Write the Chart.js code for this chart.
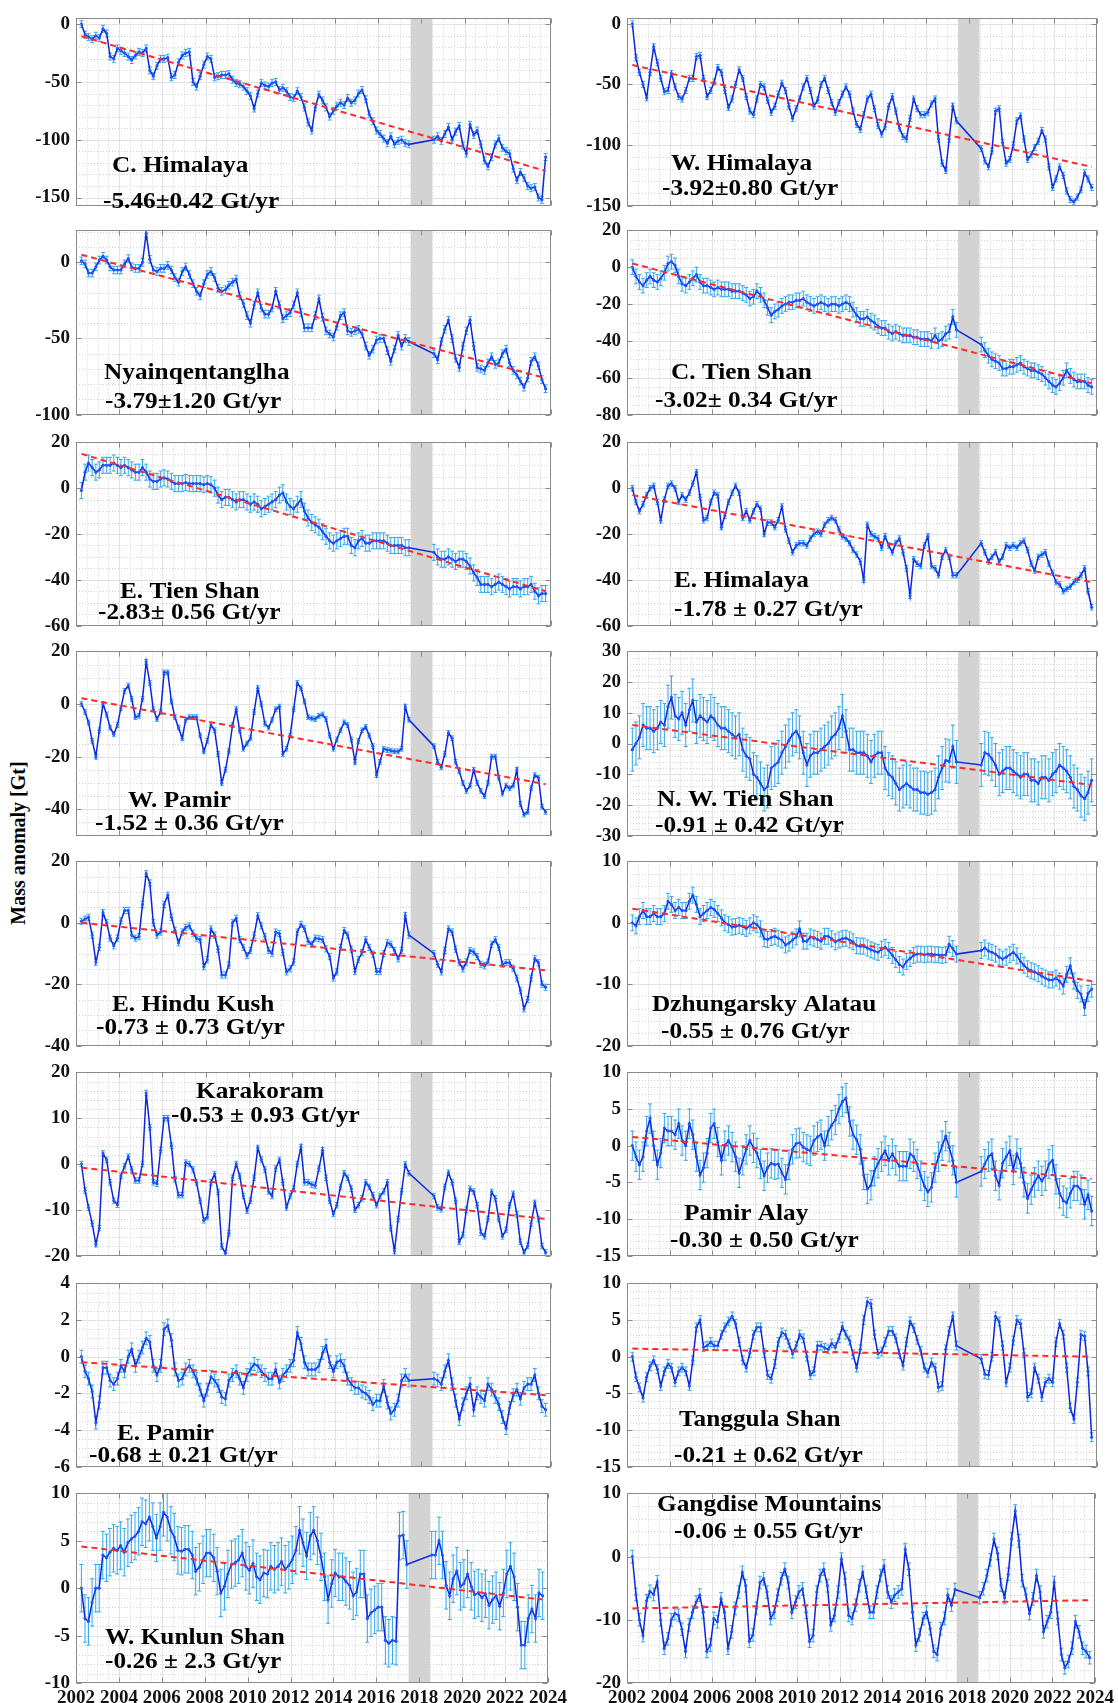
<!DOCTYPE html>
<html>
<head>
<meta charset="utf-8">
<script src="https://cdn.jsdelivr.net/npm/chart.js@4.4.1/dist/chart.umd.min.js"></script>
<style>
  body { margin: 0; background: #fff; width: 1118px; height: 1703px; position: relative; overflow: hidden; }
  canvas { position: absolute; }
  #ylab { position: absolute; left: 18px; top: 843px; transform: translate(-50%, -50%) rotate(-90deg);
          font: bold 20px "Liberation Serif", "Times New Roman", serif; white-space: nowrap; color: #000; }
</style>
</head>
<body>
<div id="ylab">Mass anomaly [Gt]</div>
<script>
// time axis: GRACE (2002-2017) and GRACE-FO (2018-2023), decimal years
const years = [
  2002.25, 2002.42, 2002.58, 2002.75, 2002.92,
  2003.08, 2003.25, 2003.42, 2003.58, 2003.75, 2003.92,
  2004.08, 2004.25, 2004.42, 2004.58, 2004.75, 2004.92,
  2005.08, 2005.25, 2005.42, 2005.58, 2005.75, 2005.92,
  2006.08, 2006.25, 2006.42, 2006.58, 2006.75, 2006.92,
  2007.08, 2007.25, 2007.42, 2007.58, 2007.75, 2007.92,
  2008.08, 2008.25, 2008.42, 2008.58, 2008.75, 2008.92,
  2009.08, 2009.25, 2009.42, 2009.58, 2009.75, 2009.92,
  2010.08, 2010.25, 2010.42, 2010.58, 2010.75, 2010.92,
  2011.08, 2011.25, 2011.42, 2011.58, 2011.75, 2011.92,
  2012.08, 2012.25, 2012.42, 2012.58, 2012.75, 2012.92,
  2013.08, 2013.25, 2013.42, 2013.58, 2013.75, 2013.92,
  2014.08, 2014.25, 2014.42, 2014.58, 2014.75, 2014.92,
  2015.08, 2015.25, 2015.42, 2015.58, 2015.75, 2015.92,
  2016.08, 2016.25, 2016.42, 2016.58, 2016.75, 2016.92,
  2017.08, 2017.25, 2017.42,
  2018.58, 2018.75, 2018.92,
  2019.08, 2019.25, 2019.42, 2019.58, 2019.75, 2019.92,
  2020.08, 2020.25, 2020.42, 2020.58, 2020.75, 2020.92,
  2021.08, 2021.25, 2021.42, 2021.58, 2021.75, 2021.92,
  2022.08, 2022.25, 2022.42, 2022.58, 2022.75, 2022.92,
  2023.08, 2023.25, 2023.42, 2023.58, 2023.75
];

const cHimalaya = [
  0, -9, -11, -13, -10,
  -12, -4, -8, -28, -30, -21,
  -23, -25, -28, -31, -27, -24,
  -25, -21, -40, -45, -36, -30,
  -30, -29, -46, -44, -33, -27,
  -25, -24, -50, -54, -45, -35,
  -28, -30, -46, -45, -44, -44,
  -43, -48, -51, -52, -54, -58,
  -62, -73, -60, -51, -53, -54,
  -51, -50, -57, -55, -58, -63,
  -64, -58, -63, -72, -85, -92,
  -72, -61, -66, -72, -80, -75,
  -71, -68, -70, -64, -68, -66,
  -60, -57, -65, -78, -84, -92,
  -95, -99, -103, -97, -104, -101,
  -100, -103, -104,
  -100, -97, -101,
  -95, -89, -100, -93, -88, -105,
  -112, -87, -96, -92, -104, -118,
  -123, -115, -104, -99, -107, -110,
  -112, -125, -135, -128, -133, -140,
  -142, -141, -150, -152, -115
];
const wHimalaya = [
  0, -28, -40, -50, -61,
  -40, -19, -32, -45, -56, -55,
  -41, -52, -60, -62, -55, -45,
  -45, -27, -26, -45, -60, -55,
  -48, -36, -40, -55, -69, -62,
  -50, -38, -45, -60, -72, -75,
  -62, -50, -52, -63, -73, -68,
  -58, -49, -55, -68, -78, -70,
  -62, -52, -45, -55, -68, -63,
  -50, -45, -55, -65, -73, -65,
  -58, -52, -58, -72, -83, -87,
  -75, -62, -58, -70, -84, -91,
  -85, -68, -60, -72, -86, -93,
  -95, -78, -62, -70, -75, -75,
  -73, -66, -62, -95, -115, -121,
  -95, -68, -80,
  -103, -113, -118,
  -105, -72, -70, -98, -115, -112,
  -100, -80, -76, -95, -112, -108,
  -102, -97, -88, -95, -118, -135,
  -128, -118, -125, -138, -145, -147,
  -143, -137, -123, -128, -135
];
const nyainqentanglha = [
  1, -1, -7, -7, -3,
  1.5, 4, 1.5, -3, -5, -5,
  -5, -1, 2.5, -3, -4, -4,
  0, 19, 2, -5, -6, -4,
  -4, -2, -5, -10, -13, -6,
  -3, -8, -14, -19, -22, -14,
  -8, -6, -10, -17, -19, -18,
  -15, -13, -11, -22, -27, -35,
  -40, -28, -20, -30, -34, -34,
  -30, -19, -28, -37, -35, -33,
  -28, -20, -33, -43, -43, -43,
  -35, -24, -36, -45, -47, -49,
  -42, -35, -33, -45, -46, -45,
  -44, -47, -55, -61, -57, -51,
  -50, -50, -58, -65, -57, -48,
  -55, -50, -52,
  -60, -64, -52,
  -44, -38, -50, -63, -69, -55,
  -45, -38, -55, -69, -70, -71,
  -66, -62, -67, -66, -60, -57,
  -66, -71, -74, -78, -82, -76,
  -65, -62, -68, -77, -83
];
const cTienShan = [
  0, -5, -8, -10, -7,
  -5, -7, -8, -6, -3, 2,
  3, 1, -5, -9, -10, -8,
  -6, -4, -8, -10, -10, -11,
  -12, -11, -12, -12, -12, -13,
  -13, -13, -14, -15, -17, -16,
  -13, -15, -18, -22, -26, -24,
  -23, -21, -20, -19, -19, -18,
  -18, -17, -19, -20, -21, -20,
  -19, -20, -21, -20, -20, -21,
  -20, -19, -20, -23, -26, -28,
  -28, -27, -29, -30, -32, -33,
  -33, -35, -36, -35, -36, -37,
  -37, -37, -38, -38, -39, -39,
  -39, -40, -37, -40, -39, -36,
  -35, -27, -34,
  -42, -45, -48,
  -50, -51, -52, -55, -55, -54,
  -54, -53, -52, -54, -55, -56,
  -56, -57, -58, -60, -62, -64,
  -65, -63, -60, -56, -59, -61,
  -62, -62, -62, -64, -65
];
const eTienShan = [
  -1, 7, 11, 9, 7,
  8, 10, 10, 10, 11, 10,
  9, 10, 9, 8, 7, 7,
  9, 7, 4, 3, 3, 4,
  4.5, 4, 3, 2, 2, 2,
  2.5, 2, 2, 2, 2, 1.5,
  2, 1.5, 0, -3, -5, -4,
  -4, -5, -6, -5, -5, -6,
  -7, -6, -7, -9, -8, -7,
  -6, -5, -3, -2, -6, -8,
  -9, -7, -5, -10, -13, -15,
  -16, -17, -19, -21, -23, -24,
  -23, -22, -21, -21, -25, -26,
  -23, -22, -24, -24, -23, -23,
  -23, -23, -24, -25, -25, -25,
  -25, -26, -26,
  -28, -30, -31,
  -31, -30, -31, -32, -31, -31,
  -32, -34, -37, -39, -42, -42,
  -42, -43, -42, -41, -42, -43,
  -44, -43, -43, -44, -43, -43,
  -42, -45, -47, -46, -46
];
const eHimalaya = [
  0, -6, -10, -7, -3,
  0, 1, -6, -14, -5, 1,
  2, 0, -6, -3, -5, -2,
  2, 7, -4, -14, -13, -6,
  -2, -3, -17, -12, -6, -2,
  1, -2, -13, -10, -14, -10,
  -7, -9, -20, -15, -15, -17,
  -14, -8, -18, -23, -28, -25,
  -24, -24, -25, -22, -20, -19,
  -20, -16, -14, -13, -14, -18,
  -21, -22, -24, -27, -29, -32,
  -40, -16, -20, -21, -22, -26,
  -21, -25, -28, -24, -22, -28,
  -35, -47, -31, -33, -34, -25,
  -21, -34, -35, -38, -30, -27,
  -30, -38, -38,
  -24, -28, -32,
  -30, -28, -32, -30, -25, -26,
  -25, -26, -24, -23, -27, -33,
  -36, -30, -29, -28, -33, -37,
  -41, -42, -45, -44, -43, -41,
  -40, -38, -35, -45, -52
];
const wPamir = [
  0, -3, -7, -14, -20,
  -10, 0, -4, -9, -11.5, -8,
  -1.5, 5, 7, 2, -5, -4.5,
  2, 16, 8, -2, -5.7, -3,
  12, 12, 1, -5, -9, -13,
  -6, -5, -5, -5, -12, -18,
  -14, -8, -10, -19, -30, -25,
  -18, -8, -2, -10, -17, -15,
  -13, -3, 6, 0, -7.5, -9,
  -6, -2, -1, -19, -17, -12,
  -2, 8, 6, 1, -5, -5.5,
  -5.7, -4.5, -4, -5.7, -12, -17,
  -13.5, -10, -7, -8, -13.5, -22,
  -14, -10, -8.7, -12, -16, -27,
  -22, -17, -17.5, -17.7, -18, -18,
  -17, -1, -6,
  -16, -22, -24,
  -19, -11, -13, -22, -25.6, -30,
  -33, -31, -25, -30, -33, -35,
  -30, -20, -20, -28, -34, -31,
  -32, -31, -25, -38, -42, -41,
  -32, -27, -28, -39, -41
];
const nwTienShan = [
  -2, 0, 2, 6, 5,
  5, 4, 5, 7, 6, 12,
  15, 9, 8, 10, 6, 11,
  14, 7, 9, 8, 7, 9,
  8, 6, 5, 5, 4, 3,
  2, 3, -2, -4, -5, -10,
  -11, -13, -15, -14, -8, -7,
  -6, -3, -1, 1, 3, 4,
  2, -3, -7, -4, -3, -3,
  -2, -1, 0, 2, 3, 5,
  9, 4, -2, -2, -3, -3,
  -3, -4, -6, -4, -3, -3,
  -8, -10, -11, -13, -15, -14,
  -13, -14, -15, -15, -16, -16,
  -16.5, -16, -15, -11, -8, -5.5,
  -5.8, -1, -6,
  -7, -3, -3.5,
  -5, -7, -10, -9, -8, -8,
  -9, -10, -11, -10, -10, -12,
  -12, -13, -11, -11, -12, -10,
  -9, -7, -8, -9, -11, -14,
  -15, -17, -18, -16, -12
];
const eHinduKush = [
  0.5, 1.2, 1.8, -4, -12.8,
  -8, 3.3, 0, -5, -7.5, -5,
  0.7, 4, 4, -4, -5, -4.5,
  6, 16, 13, 0, -4, -3,
  6, 9, 1.8, -2.4, -6.5, -3,
  -1.5, -1, -3.4, -5, -5.5, -14.3,
  -12, -2, -4, -8.6, -17, -17,
  -13.8, 0, 1.5, -5.5, -8, -10.7,
  -9, -4, 2.3, -1, -4.5, -9,
  -10, -3, -3.5, -9.7, -16, -15,
  -12.8, -3, -0.5, -1.9, -6, -7,
  -5, -5.2, -5.5, -8.5, -11, -18,
  -16, -8, -2.5, -4, -8.6, -15.9,
  -12, -9.7, -5.5, -8, -10.2, -15.9,
  -15.9, -10, -6.5, -7, -9, -11.7,
  -9, 2.3, -4,
  -10, -13.5, -16,
  -9, -2, -3, -8.6, -13, -15,
  -12.8, -9, -9.5, -11, -13.5, -14,
  -12.8, -7, -5.5, -8, -13.5, -13,
  -13, -14.8, -18, -22, -28, -25,
  -18, -11.7, -13, -20, -21
];
const dzhungarsky = [
  0, -0.5, 1, 2, 1,
  1, 1.5, 1, 1, 1.5, 3.5,
  3, 2, 2.5, 2, 2, 3.5,
  4.5, 3, 1, 1.5, 2, 2.5,
  2.2, 1.5, 0.8, 0, -0.3, -0.7,
  -0.6, -0.4, -0.6, -0.9, -0.5, 0,
  -0.3, -1, -2.6, -2.7, -2.4, -2.2,
  -2.5, -2.8, -3.6, -3.3, -2.8, -2.3,
  -1, -3, -3, -2.3, -2.5, -2.7,
  -3, -2.2, -2.2, -2.6, -3.1, -2.8,
  -2.6, -2.5, -2.8, -3.1, -3.7, -3.8,
  -3.8, -4.1, -4.4, -4.6, -4.8, -4.3,
  -4, -4.5, -5.3, -6, -6.8, -7.2,
  -6.3, -5.8, -5.3, -5.1, -5.1, -5.2,
  -5.1, -5.1, -5.2, -5.2, -5.3, -5.2,
  -3.5, -4.2, -5.1,
  -4.5, -4.1, -4.6,
  -4.8, -5.1, -5.6, -5.9, -5.6, -5.2,
  -4.8, -5.4, -6.3, -6.9, -7.5, -7.8,
  -8, -8.3, -8.7, -9, -9.3, -9.3,
  -9, -9.5, -10.3, -8.4, -7, -9.5,
  -11, -11.6, -13.8, -11.5, -10.8
];
const karakoram = [
  0, -5.8, -9.5, -13, -17.5,
  -14, 2.3, 0.9, -4, -8, -8.9,
  -2.6, -0.5, 1.6, -1.2, -3.6, -3.6,
  0, 15.5, 8, -4, -4.3, 3,
  10, 10, 4, -3.3, -6.8, -6.8,
  0.3, 0, -1.2, -4, -8, -12.3,
  -11.6, -4, -2.2, -6.1, -18, -19.5,
  -15.1, -3, 0, -2.6, -7, -10.2,
  -8, -3, 3.5, 1, -1.2, -6,
  -7, -1, 0.9, -4, -9.5, -7,
  -5.4, 0, 3.7, -4, -4, -4.5,
  -4.7, -1, 3, -3, -8, -10.9,
  -9, -5, -2, -3, -5.4, -10,
  -9, -7.5, -4, -5, -6.8, -9,
  -7, -6, -4, -14, -19, -12,
  -6, -0.1, -2,
  -7, -9.5, -9.9,
  -5, -1.9, -4, -8, -17, -15.5,
  -10, -5.4, -6, -9, -15, -15.8,
  -12, -6.1, -7.5, -12, -15.8, -14.4,
  -9, -6.5, -11, -17, -19.3, -17.9,
  -13, -8.5, -12, -17.9, -19.3
];
const pamirAlay = [
  0, -1.5, -2.6, -1.5, 2,
  3.7, 0, -2.6, -1, 2.4, 2,
  2, 1.5, 3, 0.7, 0, 3,
  1.5, -1.5, -4, -3, -1, 2.4,
  3, 0.5, -2, 0, 0.7, -0.2,
  -1.5, -3.7, -2, -0.5, 0.7, -0.3,
  -1, -2.5, -4.1, -3, -2.4, -2.6,
  -2.5, -3.7, -4.6, -2.6, -0.5, 0.3,
  0.4, -0.2, -0.5, -0.7, 0.7, 1.2,
  1.5, 0, 2, 2.8, 3.5, 5,
  6, 6.5, 3.3, 1.5, 0.8, -0.5,
  -4, -5.9, -5.4, -3.5, -2.4, -1.5,
  -0.7, -2, -1.1, -2, -2.8, -2.8,
  -2.8, -1.1, -1.5, -2.5, -4.1, -5.5,
  -6.3, -5.7, -3, -1.5, 0, 1.3,
  -0.2, -2, -5,
  -3.5, -2.5, -1.5,
  -1.1, -4.1, -5.4, -2.4, -1.5, -0.7,
  -3.3, -1.1, -2.4, -5, -7.2, -6,
  -5, -4.1, -4.8, -4.1, -2.5, -2,
  -4.6, -6.5, -7.5, -7.8, -6.5, -5.5,
  -5.5, -6, -8, -6.7, -8.9
];
const ePamir = [
  0, -0.8, -1.2, -1.9, -3.6,
  -2.5, -0.6, -0.6, -1.3, -1.5, -1.2,
  -0.5, -0.8, 0, 0.4, -0.5, 0,
  0.5, 1, 0.8, -0.5, -1, -0.5,
  1.5, 1.7, 0.9, -0.7, -1.3, -1.2,
  -0.7, -0.5, -0.8, -1.2, -1.8, -2.4,
  -1.8, -1.1, -1.3, -1.6, -2.2, -2.3,
  -1.3, -1, -0.8, -1.2, -1.7, -1,
  -0.7, -0.4, -0.5, -0.8, -1, -1.2,
  -1.2, -0.7, -1.4, -1, -0.8, -0.5,
  -0.2, 1.3, 0.7, -0.3, -0.7, -0.7,
  -0.7, -0.5, 0.2, 0.6, -0.3, -0.8,
  -0.3, -0.2, -0.5, -1.2, -1.5, -1.7,
  -1.7, -1.9, -2, -2.2, -2.6, -2.4,
  -2.4, -1.6, -2.5, -3.1, -2.9, -2.4,
  -1.3, -1, -1.3,
  -1.2, -1.3, -1.5,
  -0.8, -0.2, -1.5, -2.4, -3.4, -2.6,
  -2, -1.5, -2.9, -2, -2.2, -2.4,
  -1.5, -1.8, -2.2, -2.6, -3.3, -3.9,
  -2.8, -2.1, -1.8, -2.3, -1.7, -1.5,
  -1.5, -1, -2, -2.7, -2.9
];
const tanggula = [
  0, -2.8, -4.2, -5.6, -2.8,
  -1.3, -0.5, -1.7, -4, -2, -1,
  -1.5, -3.5, -2, -1.5, -2, -4,
  -0.5, 4, 5, 1.3, 1.5, 2,
  1.5, 1.5, 3, 4, 4.8, 5.5,
  4.5, 2, -0.5, -1.5, 0.5, 3,
  4, 4, 0.5, -2.5, -3, -1,
  2, 3.3, 3, 1.8, 0.4, 1.5,
  3, 2.5, 0, -2.5, -2, 1.5,
  1.5, 1.2, 1, 1.8, 1.3, 2.5,
  4.1, 3, 2.2, 0.3, -1.5, 1,
  5, 7.5, 7.2, 3, 0.4, 0.7,
  2, 3.5, 3.5, 2.5, 0.4, -1.2,
  2, 4.8, 3.9, 2.3, 0.8, -1.5,
  -2.2, -0.8, -1.5, -4.2, -4, 1,
  3.5, 5.5, 1.5,
  -0.3, -2.4, -2.5,
  0, 5.5, 4.8, 1.5, -3.5, -1.5,
  2.2, 5, 4.5, 0.5, -5.5, -5,
  -1.5, -3, -5.5, -3.5, -3, -3.5,
  2, 4.5, 3, -1.5, -7, -8.5,
  -3.5, 3, 2.8, -2, -11
];
const wKunlun = [
  0, -3.2, -3.5, -1.5, 0,
  0, 3.5, 3.2, 3.8, 4.2, 4,
  4.5, 3.8, 4.8, 5.2, 5.5, 6,
  7, 6.8, 7.5, 6.5, 5.3, 6.5,
  8, 7.5, 6.1, 5.4, 4, 3.9,
  4.1, 4.1, 3.5, 1.8, 2.2, 3,
  3.7, 3.7, 3.2, 1.8, -0.5, 0.2,
  1.5, 2.5, 2.7, 3, 3.7, 2.3,
  1.9, 2.6, 1.2, 0.9, 1.6, 1.5,
  2.3, 2, 2.3, 2.8, 2, 2.4,
  3, 4, 6.1, 4.8, 3.4, 5.5,
  6.1, 5, 3.3, 1.2, -1.2, 0.5,
  1.6, 1.2, 1.2, 0.7, 0.3, -0.8,
  -0.4, 1.5, 1.5, -3.2, -2.6, -2.3,
  -2, -2, -5.5, -5.8, -5.5, -5.6,
  5.5, 5.6, 2.5,
  3.5, 3.5, 5,
  3.5, 0.3, -0.8, 1, 1.8, 0.2,
  0.5, 1.5, 0.2, -0.7, -0.5, -1,
  -0.6, -1.8, -1.2, -0.8, -1.9, -0.5,
  1.5, 2.3, 1.2, -2, -6, -6,
  -3.2, -2.2, -3.2, -0.5, -0.8
];
const gangdise = [
  0, -6, -10, -12.5, -7,
  -5.5, -6, -4, -10, -14.5, -13,
  -10, -9, -9.3, -11.5, -15, -10.8,
  -8.8, -7.2, -6.1, -8.8, -15, -14,
  -9.8, -10.3, -6.7, -8.8, -14.5, -11.9,
  -8.2, -5.6, -2.5, -4.6, -13.4, -12.4,
  -8.2, -4.1, -3.5, -5.6, -9.8, -8.8,
  -6.1, -3.5, -2, -4.1, -8.8, -7.2,
  -5.6, -5.1, -8.8, -13.4, -12.5, -5.6,
  -3, -2, -4.6, -10.8, -9.3, -5.6,
  -0.4, -3.5, -9.3, -9.8, -7.7, -4.6,
  -2.5, -5.6, -8.8, -8.8, -5.6, -3,
  -1.5, -5.6, -7.2, -6.1, -5.6, -5.1,
  1.1, -2, -8.8, -14, -12.4, -9.8,
  -8.8, -11.4, -15, -15.5, -11.4, -9.8,
  -6.1, -7.7, -5.2,
  -6.5, -5.1, -3,
  -0.5, 2.7, 0.5, -4.5, -6.5, -2.8,
  2.8, 7.2, 2.5, -3.8, -6, -9,
  -6.7, -3, -5.6, -11.9, -10.3, -8.8,
  -4.1, -9.8, -15.5, -17.6, -16.6, -14.5,
  -10.3, -11.9, -14.5, -15, -16
];

const series = [cHimalaya, wHimalaya, nyainqentanglha, cTienShan, eTienShan, eHimalaya,
  wPamir, nwTienShan, eHinduKush, dzhungarsky, karakoram, pamirAlay,
  ePamir, tanggula, wKunlun, gangdise];

const regions = ["C. Himalaya", "W. Himalaya", "Nyainqentanglha", "C. Tien Shan", "E. Tien Shan",
  "E. Himalaya", "W. Pamir", "N. W. Tien Shan", "E. Hindu Kush", "Dzhungarsky Alatau",
  "Karakoram", "Pamir Alay", "E. Pamir", "Tanggula Shan", "W. Kunlun Shan", "Gangdise Mountains"];
const rates = ["-5.46±0.42 Gt/yr", "-3.92±0.80 Gt/yr", "-3.79±1.20 Gt/yr", "-3.02± 0.34 Gt/yr",
  "-2.83± 0.56 Gt/yr", "-1.78 ± 0.27 Gt/yr", "-1.52 ± 0.36 Gt/yr", "-0.91 ± 0.42 Gt/yr",
  "-0.73 ± 0.73 Gt/yr", "-0.55 ± 0.76 Gt/yr", "-0.53 ± 0.93 Gt/yr", "-0.30 ± 0.50 Gt/yr",
  "-0.68 ± 0.21 Gt/yr", "-0.21 ± 0.62 Gt/yr", "-0.26 ± 2.3 Gt/yr", "-0.06 ± 0.55 Gt/yr"];

// linear trend, value at first and last epoch
const trendStart = [-10.5, -34, 5, 2, 15, -3, 2.2, 6, 0, 2.3, -0.8, 1.2, -0.3, 1.1, 4.4, -8.2];
const trendEnd = [-127, -118, -76, -63, -45, -41, -30.5, -13.5, -15.5, -9.5, -12, -4.5, -2.1, 0, -1.2, -6.9];
const errHalf = [3, 2.5, 2.5, 4, 3.5, 1.2, 0.9, 7, 1, 1.3, 0.6, 2, 0.35, 0.6, 2.5, 1];

const yMin = [-157, -150, -100, -80, -60, -60, -50, -30, -40, -20, -20, -15, -6, -15, -10, -20];
const yMax = [5, 4.5, 21, 20, 20, 20, 20, 30, 20, 10, 20, 10, 4, 10, 10, 10];
const yStep = [50, 50, 50, 20, 20, 20, 20, 10, 20, 10, 10, 5, 2, 5, 5, 10];
const yMinor = [10, 10, 10, 5, 5, 5, 5, 2, 5, 2, 2, 1, 0.5, 1, 1, 2];
const gapBand = [2017.5, 2018.5];

// layout (page pixels)
const rowTop = [13, 225, 437, 646, 856, 1067, 1278, 1488];
const rowBottom = [211, 420, 631, 841, 1051, 1261, 1472, 1683];
const plotLeft = [76, 627], plotRight = [551, 1097];
const canvasLeft = [0, 560], canvasWidth = [571, 558];
// [name left, name middle, rate left, rate middle]
const textPos = [[112, 166, 103, 202], [671, 164, 662, 189], [104, 373, 105, 402], [671, 373, 655, 401],
  [120, 592, 98, 613], [674, 581, 674, 610], [128, 801, 95, 824], [657, 800, 655, 826],
  [112, 1005, 96, 1028], [652, 1005, 661, 1032], [196, 1092, 171, 1116], [684, 1214, 670, 1241],
  [117, 1434, 89, 1456], [679, 1420, 674, 1456], [105, 1638, 105, 1662], [657, 1505, 674, 1532]];

const SERIF = '"Liberation Serif", "Times New Roman", serif';

function stepValues(min, max, step) {
  const out = [];
  for (let v = Math.ceil(min / step - 1e-9) * step; v <= max + 1e-9; v += step) out.push(+v.toFixed(6));
  return out;
}

function panelPlugin(i, cLeft, cTop) {
  return {
    id: 'panel' + i,
    beforeDatasetsDraw(chart) {
      const ctx = chart.ctx, a = chart.chartArea, xs = chart.scales.x, ys = chart.scales.y;
      ctx.save();
      ctx.beginPath();
      ctx.rect(a.left, a.top, a.right - a.left, a.bottom - a.top);
      ctx.clip();
      // minor grid
      ctx.lineWidth = 1;
      ctx.strokeStyle = '#d2d2d2';
      ctx.setLineDash([1, 2]);
      stepValues(2002, 2024, 0.5).forEach(v => {
        if (Math.abs(v / 2 - Math.round(v / 2)) < 1e-6) return;
        const px = Math.round(xs.getPixelForValue(v)) + 0.5;
        ctx.beginPath(); ctx.moveTo(px, a.top); ctx.lineTo(px, a.bottom); ctx.stroke();
      });
      stepValues(yMin[i], yMax[i], yMinor[i]).forEach(v => {
        if (Math.abs(v / yStep[i] - Math.round(v / yStep[i])) < 1e-6) return;
        const py = Math.round(ys.getPixelForValue(v)) + 0.5;
        ctx.beginPath(); ctx.moveTo(a.left, py); ctx.lineTo(a.right, py); ctx.stroke();
      });
      // major grid
      ctx.setLineDash([]);
      ctx.strokeStyle = '#e2e2e2';
      stepValues(2002, 2024, 2).forEach(v => {
        const px = Math.round(xs.getPixelForValue(v)) + 0.5;
        ctx.beginPath(); ctx.moveTo(px, a.top); ctx.lineTo(px, a.bottom); ctx.stroke();
      });
      stepValues(yMin[i], yMax[i], yStep[i]).forEach(v => {
        const py = Math.round(ys.getPixelForValue(v)) + 0.5;
        ctx.beginPath(); ctx.moveTo(a.left, py); ctx.lineTo(a.right, py); ctx.stroke();
      });
      // data gap band
      const b0 = xs.getPixelForValue(gapBand[0]), b1 = xs.getPixelForValue(gapBand[1]);
      ctx.fillStyle = '#d3d3d3';
      ctx.fillRect(b0, a.top, b1 - b0, a.bottom - a.top);
      // error bars
      ctx.strokeStyle = '#2ea8ee';
      ctx.lineWidth = 1;
      const e = errHalf[i];
      series[i].forEach((v, k) => {
        const px = xs.getPixelForValue(years[k]);
        const p0 = ys.getPixelForValue(v - e), p1 = ys.getPixelForValue(v + e);
        ctx.beginPath();
        ctx.moveTo(px, p0); ctx.lineTo(px, p1);
        ctx.moveTo(px - 2, p0); ctx.lineTo(px + 2, p0);
        ctx.moveTo(px - 2, p1); ctx.lineTo(px + 2, p1);
        ctx.stroke();
      });
      ctx.restore();
    },
    afterDatasetsDraw(chart) {
      const ctx = chart.ctx, a = chart.chartArea, xs = chart.scales.x, ys = chart.scales.y;
      ctx.save();
      ctx.strokeStyle = '#8a8a8a';
      ctx.lineWidth = 1;
      const L = Math.round(a.left) + 0.5, R = Math.round(a.right) - 0.5;
      const T = Math.round(a.top) + 0.5, B = Math.round(a.bottom) - 0.5;
      ctx.strokeRect(L, T, R - L, B - T);
      const tl = 5;
      ctx.beginPath();
      stepValues(2002, 2024, 2).forEach(v => {
        const px = Math.round(xs.getPixelForValue(v)) + 0.5;
        ctx.moveTo(px, B); ctx.lineTo(px, B - tl);
        ctx.moveTo(px, T); ctx.lineTo(px, T + tl);
      });
      stepValues(yMin[i], yMax[i], yStep[i]).forEach(v => {
        const py = Math.round(ys.getPixelForValue(v)) + 0.5;
        ctx.moveTo(L, py); ctx.lineTo(L + tl, py);
        ctx.moveTo(R, py); ctx.lineTo(R - tl, py);
      });
      ctx.stroke();
      // region name and rate, slightly widened like the source figure
      const t = textPos[i];
      ctx.fillStyle = '#000';
      ctx.font = 'bold 23px ' + SERIF;
      ctx.textAlign = 'left';
      ctx.textBaseline = 'middle';
      [[regions[i], t[0], t[1]], [rates[i], t[2], t[3]]].forEach(([s, x, y]) => {
        ctx.save();
        ctx.translate(x - cLeft, y - cTop);
        ctx.scale(1.1, 1);
        ctx.fillText(s, 0, 0);
        ctx.restore();
      });
      ctx.restore();
    }
  };
}

function makePanel(i) {
  const col = i % 2, row = Math.floor(i / 2);
  const last = row === 7;
  if (series[i].length !== years.length) console.error('length mismatch in panel ' + i + ': ' + series[i].length);
  const cLeft = canvasLeft[col], w = canvasWidth[col];
  const padTop = 12;
  const cTop = rowTop[row] - padTop;
  const plotH = rowBottom[row] - rowTop[row];
  const xh = last ? 28 : 0;
  const padBottom = last ? 2 : 12;
  const h = padTop + plotH + xh + padBottom;
  const cv = document.createElement('canvas');
  cv.width = w; cv.height = h;
  cv.style.left = cLeft + 'px'; cv.style.top = cTop + 'px';
  cv.style.width = w + 'px'; cv.style.height = h + 'px';
  document.body.appendChild(cv);

  const pts = years.map((x, k) => ({ x: x, y: series[i][k] }));
  const trend = [{ x: years[0], y: trendStart[i] }, { x: years[years.length - 1], y: trendEnd[i] }];
  const tickFont = { family: SERIF, size: 19, weight: 'bold' };

  new Chart(cv, {
    type: 'line',
    data: {
      datasets: [{
        data: pts,
        borderColor: '#0c26e0',
        borderWidth: 1.5,
        pointRadius: 1.6,
        pointBackgroundColor: '#1f55ff',
        pointBorderWidth: 0,
        order: 2
      }, {
        data: trend,
        borderColor: '#ff2a2a',
        borderWidth: 2,
        borderDash: [6, 4],
        pointRadius: 0,
        order: 1
      }]
    },
    options: {
      responsive: false,
      animation: false,
      events: [],
      layout: { padding: { top: padTop, bottom: padBottom, left: 0, right: w - (plotRight[col] - cLeft) } },
      plugins: { legend: { display: false }, tooltip: { enabled: false } },
      scales: {
        x: {
          type: 'linear', min: 2002, max: 2024,
          grid: { display: false, drawTicks: false },
          border: { display: false },
          ticks: { display: last, font: tickFont, color: '#111', padding: 4, maxRotation: 0, autoSkip: false,
                   callback: v => String(v) },
          afterBuildTicks: s => { s.ticks = stepValues(2002, 2024, 2).map(v => ({ value: v })); },
          afterFit: s => { s.height = xh; }
        },
        y: {
          type: 'linear', min: yMin[i], max: yMax[i],
          grid: { display: false, drawTicks: false },
          border: { display: false },
          ticks: { font: tickFont, color: '#111', padding: 6, callback: v => String(v) },
          afterBuildTicks: s => { s.ticks = stepValues(yMin[i], yMax[i], yStep[i]).map(v => ({ value: v })); },
          afterFit: s => { s.width = plotLeft[col] - cLeft; }
        }
      }
    },
    plugins: [panelPlugin(i, cLeft, cTop)]
  });
}

for (let i = 0; i < series.length; i++) makePanel(i);
</script>
</body>
</html>
